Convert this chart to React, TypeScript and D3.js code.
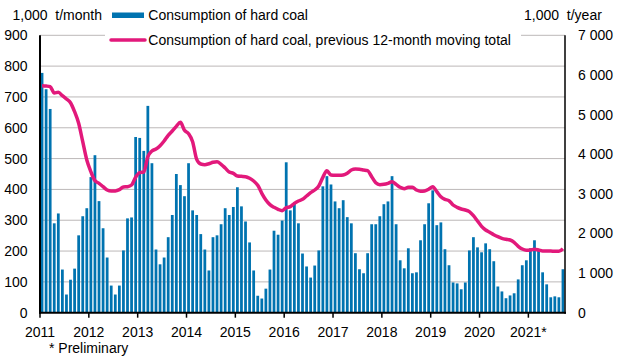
import React, { useEffect, useRef } from "react";
import * as d3 from "d3";

// monthly consumption of hard coal, 1,000 t/month (Jan 2011 - Sep 2021)
const years = ["2011", "2012", "2013", "2014", "2015", "2016", "2017", "2018", "2019", "2020", "2021*"];

const monthly2011 = [778, 725, 661, 290, 322, 140, 59, 107, 143, 251, 313, 339];
const monthly2012 = [440, 511, 362, 274, 179, 88, 59, 88, 202, 306, 309, 570];
const monthly2013 = [567, 525, 671, 485, 205, 157, 179, 245, 317, 450, 414, 378];
const monthly2014 = [485, 332, 317, 255, 205, 137, 245, 251, 287, 339, 317, 343];
const monthly2015 = [407, 345, 296, 228, 137, 55, 46, 78, 140, 266, 253, 299];
const monthly2016 = [488, 332, 358, 290, 192, 150, 114, 153, 202, 410, 443, 416];
const monthly2017 = [361, 339, 365, 310, 290, 193, 141, 128, 193, 287, 287, 313];
const monthly2018 = [352, 361, 443, 287, 170, 144, 209, 128, 131, 235, 287, 355];
const monthly2019 = [397, 284, 293, 206, 154, 98, 95, 76, 98, 202, 245, 212];
const monthly2020 = [196, 225, 206, 167, 85, 69, 47, 56, 63, 108, 154, 170];
const monthly2021 = [209, 235, 202, 131, 92, 50, 53, 50, 141];

// previous 12-month moving total, 1,000 t/year
const total2011 = [5728, 5720, 5703, 5544, 5561, 5476, 5393, 5299, 5072, 4779, 4315, 3853];
const total2012 = [3558, 3331, 3265, 3180, 3096, 3071, 3071, 3104, 3172, 3180, 3222, 3420];
const total2013 = [3533, 3550, 3937, 4080, 4131, 4214, 4333, 4476, 4585, 4703, 4804, 4602];
const total2014 = [4517, 4315, 3870, 3752, 3735, 3760, 3795, 3810, 3745, 3651, 3550, 3517];
const total2015 = [3449, 3441, 3433, 3391, 3323, 3214, 3013, 2844, 2726, 2659, 2609, 2574];
const total2016 = [2650, 2675, 2760, 2818, 2860, 2945, 3028, 3096, 3197, 3416, 3580, 3475];
const total2017 = [3466, 3466, 3475, 3517, 3601, 3626, 3618, 3601, 3584, 3433, 3281, 3231];
const total2018 = [3239, 3265, 3306, 3239, 3164, 3130, 3164, 3164, 3096, 3063, 3072, 3114];
const total2019 = [3180, 3054, 2927, 2861, 2827, 2718, 2659, 2617, 2592, 2549, 2448, 2314];
const total2020 = [2180, 2087, 2029, 1968, 1918, 1877, 1852, 1834, 1776, 1675, 1607, 1575];
const total2021 = [1583, 1600, 1583, 1557, 1557, 1557, 1549, 1549, 1615];

const leftTicks = [0, 100, 200, 300, 400, 500, 600, 700, 800, 900];
const rightTicks = [0, 1000, 2000, 3000, 4000, 5000, 6000, 7000];

const monthly = [
  ...monthly2011, ...monthly2012, ...monthly2013, ...monthly2014, ...monthly2015, ...monthly2016,
  ...monthly2017, ...monthly2018, ...monthly2019, ...monthly2020, ...monthly2021,
];
const totals = [
  ...total2011, ...total2012, ...total2013, ...total2014, ...total2015, ...total2016,
  ...total2017, ...total2018, ...total2019, ...total2020, ...total2021,
];

const BAR_COLOR = "#0073b0";
const LINE_COLOR = "#e2197b";
const FONT = "'Liberation Sans', Arial, sans-serif";

const CoalChart: React.FC<{ width?: number; height?: number }> = ({ width = 618, height = 363 }) => {
  const svgRef = useRef<SVGSVGElement>(null);

  useEffect(() => {
    const svg = d3.select(svgRef.current);
    svg.html("");

    const left = 40;
    const right = 565;
    const top = 35.3;
    const bottom = 312.7;

    const idx = monthly.map((_, i) => i);
    const x = d3.scaleBand<number>().domain(idx).range([left, right]).paddingInner(0.32).paddingOuter(0.16);
    const yL = d3.scaleLinear().domain([0, 900]).range([bottom, top]);
    const yR = d3.scaleLinear().domain([0, 7000]).range([bottom, top]);
    const edge = (i: number) => (x(i) as number) - x.step() * 0.16;

    const g = svg.append("g").attr("font-family", FONT).attr("font-size", 14).attr("fill", "#000");

    // gridlines
    g.selectAll("line.grid")
      .data(leftTicks.slice(1))
      .join("line")
      .attr("x1", left)
      .attr("x2", right)
      .attr("y1", (d) => yL(d))
      .attr("y2", (d) => yL(d))
      .attr("stroke", "#bcb8b8")
      .attr("stroke-width", 1);

    // bars
    g.selectAll("rect.bar")
      .data(monthly)
      .join("rect")
      .attr("x", (_, i) => x(i) as number)
      .attr("width", x.bandwidth())
      .attr("y", (d) => yL(d))
      .attr("height", (d) => yL(0) - yL(d))
      .attr("fill", BAR_COLOR);

    // moving total line
    const line = d3
      .line<number>()
      .x((_, i) => (x(i) as number) + x.bandwidth() / 2)
      .y((d) => yR(d))
      .curve(d3.curveMonotoneX);
    g.append("path")
      .datum(totals)
      .attr("fill", "none")
      .attr("stroke", LINE_COLOR)
      .attr("stroke-width", 3.5)
      .attr("stroke-linejoin", "round")
      .attr("d", line);

    // axes
    g.append("line").attr("x1", left).attr("x2", left).attr("y1", top).attr("y2", bottom + 1)
      .attr("stroke", "#000").attr("stroke-width", 2);
    g.append("line").attr("x1", right).attr("x2", right).attr("y1", top).attr("y2", bottom + 1)
      .attr("stroke", "#000").attr("stroke-width", 1.5);
    g.append("line").attr("x1", left - 1).attr("x2", right + 1).attr("y1", bottom).attr("y2", bottom)
      .attr("stroke", "#000").attr("stroke-width", 2);

    // year ticks and labels
    years.forEach((label, k) => {
      const xp = edge(k * 12);
      g.append("line").attr("x1", xp).attr("x2", xp).attr("y1", bottom).attr("y2", bottom + 5)
        .attr("stroke", "#000").attr("stroke-width", 1.5);
      g.append("text").attr("x", xp).attr("y", 336.5).attr("text-anchor", "middle").text(label);
    });

    // left axis labels
    g.selectAll("text.yl")
      .data(leftTicks)
      .join("text")
      .attr("x", 27.5)
      .attr("y", (d) => yL(d))
      .attr("dy", "0.36em")
      .attr("text-anchor", "end")
      .text((d) => String(d));

    // right axis labels
    g.selectAll("text.yr")
      .data(rightTicks)
      .join("text")
      .attr("x", 578)
      .attr("y", (d) => yR(d))
      .attr("dy", "0.36em")
      .attr("text-anchor", "start")
      .text((d) => d3.format(",")(d).replace(",", " "));

    // units
    g.append("text").attr("x", 12.5).attr("y", 20).attr("xml:space", "preserve").text("1,000  t/month");
    g.append("text").attr("x", 524).attr("y", 20).attr("xml:space", "preserve").text("1,000  t/year");

    // legend
    g.append("rect").attr("x", 105).attr("y", 2).attr("width", 416).attr("height", 46).attr("fill", "#fff");
    g.append("rect").attr("x", 112).attr("y", 12.5).attr("width", 32).attr("height", 5.5).attr("fill", BAR_COLOR);
    g.append("text").attr("x", 148.3).attr("y", 20).text("Consumption of hard coal");
    g.append("line").attr("x1", 111).attr("x2", 145).attr("y1", 40).attr("y2", 40)
      .attr("stroke", LINE_COLOR).attr("stroke-width", 3.5).attr("stroke-linecap", "round");
    g.append("text").attr("x", 148.3).attr("y", 44.5).text("Consumption of hard coal, previous 12-month moving total");

    // footnote
    g.append("text").attr("x", 49).attr("y", 353).text("* Preliminary");
  }, [width, height]);

  return (
    <svg
      ref={svgRef}
      width={width}
      height={height}
      style={{ position: "absolute", left: 0, top: 0, background: "#fff" }}
    />
  );
};

export default function App() {
  return <CoalChart />;
}
